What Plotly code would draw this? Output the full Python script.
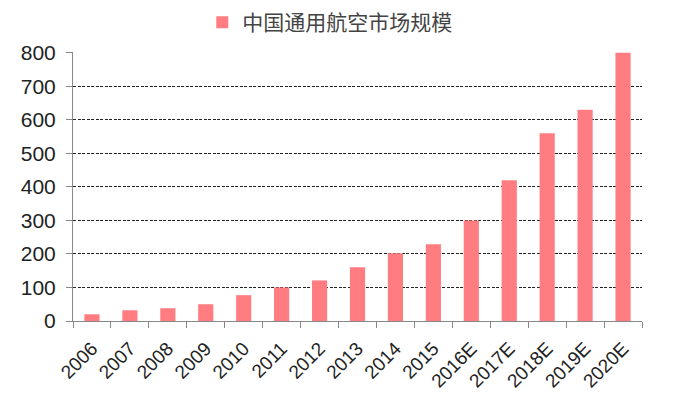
import plotly.graph_objects as go

categories = ["2006", "2007", "2008", "2009", "2010", "2011", "2012", "2013",
              "2014", "2015", "2016E", "2017E", "2018E", "2019E", "2020E"]
values = [20, 32, 38, 50, 77, 100, 121, 160, 202, 229, 300, 420, 560, 630, 800]
series_name = "中国通用航空市场规模"
y_ticks = [0, 100, 200, 300, 400, 500, 600, 700, 800]

fig = go.Figure()
fig.add_trace(go.Bar(x=categories, y=values, name=series_name,
                     marker=dict(color="#FF7C80", line=dict(width=0)),
                     showlegend=True))

fig.update_layout(
    width=673, height=406,
    margin=dict(l=73, r=31, t=52, b=85, autoexpand=False),
    paper_bgcolor="white", plot_bgcolor="white",
    bargap=0.6,
    font=dict(family="Liberation Sans, Arial, sans-serif", color="#222"),
    legend=dict(orientation="h", x=0.49, xanchor="center", y=0.995, yanchor="top",
                yref="container", xref="container",
                font=dict(family="Noto Sans CJK SC", size=21, color="#444"),
                itemwidth=30, bgcolor="rgba(0,0,0,0)"),
    xaxis=dict(showline=True, linecolor="#888", linewidth=1,
               ticks="outside", ticklen=6, tickcolor="#888",
               tickson="boundaries", tickangle=-45, automargin=False,
               ticklabelstandoff=8,
               tickfont=dict(size=19, color="#222"), showgrid=False),
    yaxis=dict(range=[0, 802], tickvals=y_ticks, showline=True, linecolor="#888",
               linewidth=1, ticks="outside", ticklen=6, tickcolor="#888",
               automargin=False, ticklabelstandoff=6,
               tickfont=dict(size=21, color="#222"),
               showgrid=True, gridcolor="#222", griddash="3px,1.5px", gridwidth=1,
               zeroline=False),
)
fig.write_html("out.html", config={"displayModeBar": False},
               post_script="document.body.style.margin='0px';")
